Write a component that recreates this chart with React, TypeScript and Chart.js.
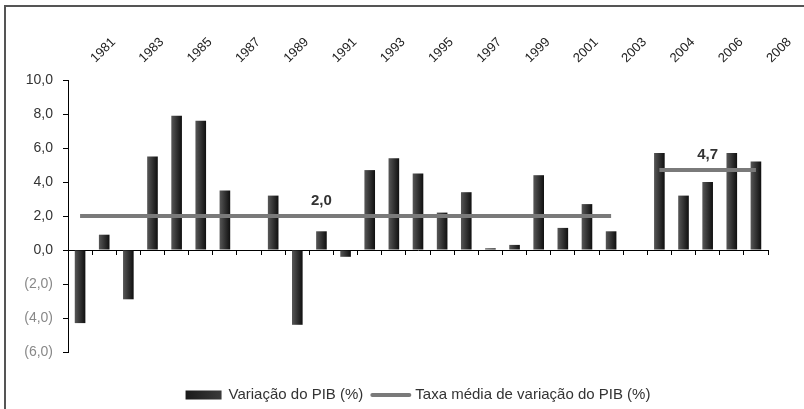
import React, { useEffect, useRef } from "react";
import { Chart, registerables } from "chart.js";

Chart.register(...registerables);

const years = [
  "1981", "1982", "1983", "1984", "1985", "1986", "1987", "1988", "1989", "1990",
  "1991", "1992", "1993", "1994", "1995", "1996", "1997", "1998", "1999", "2000",
  "2001", "2002", "2003", "", "2004", "2005", "2006", "2007", "2008",
];
const topTickLabels = [
  "1981", "", "1983", "", "1985", "", "1987", "", "1989", "",
  "1991", "", "1993", "", "1995", "", "1997", "", "1999", "",
  "2001", "", "2003", "", "2004", "", "2006", "", "2008",
];
const pibVariation = [
  -4.3, 0.9, -2.9, 5.5, 7.9, 7.6, 3.5, 0.0, 3.2, -4.4,
  1.1, -0.4, 4.7, 5.4, 4.5, 2.2, 3.4, 0.1, 0.3, 4.4,
  1.3, 2.7, 1.1, null, 5.7, 3.2, 4.0, 5.7, 5.2,
];
const avgRate = [
  2.0, 2.0, 2.0, 2.0, 2.0, 2.0, 2.0, 2.0, 2.0, 2.0,
  2.0, 2.0, 2.0, 2.0, 2.0, 2.0, 2.0, 2.0, 2.0, 2.0,
  2.0, 2.0, 2.0, null, 4.7, 4.7, 4.7, 4.7, 4.7,
];
const avgLabels = [
  { index: 10, value: 2.0, text: "2,0" },
  { index: 26, value: 4.7, text: "4,7" },
];
const yTickValues = [-6, -4, -2, 0, 2, 4, 6, 8, 10];
const yTickLabels = ["(6,0)", "(4,0)", "(2,0)", "0,0", "2,0", "4,0", "6,0", "8,0", "10,0"];
const seriesNames = ["Variação do PIB (%)", "Taxa média de variação do PIB (%)"];

const FONT = "'Liberation Sans', Arial, sans-serif";

const framePlugin = {
  id: "frame",
  beforeDraw(chart: any) {
    const { ctx, width, height } = chart;
    ctx.save();
    ctx.fillStyle = "#ffffff";
    ctx.fillRect(0, 0, width, height);
    ctx.strokeStyle = "#555555";
    ctx.lineWidth = 2;
    ctx.beginPath();
    ctx.moveTo(5, height);
    ctx.lineTo(5, 6);
    ctx.lineTo(width, 6);
    ctx.stroke();
    ctx.restore();
  },
};

const labelsPlugin = {
  id: "avgLabels",
  afterDatasetsDraw(chart: any) {
    const { ctx } = chart;
    const xs = chart.scales.x;
    const ys = chart.scales.y;
    ctx.save();
    ctx.font = `bold 15px ${FONT}`;
    ctx.fillStyle = "#333333";
    ctx.textAlign = "center";
    ctx.textBaseline = "middle";
    avgLabels.forEach((l) => {
      ctx.fillText(l.text, xs.getPixelForValue(l.index), ys.getPixelForValue(l.value) - 15);
    });
    ctx.restore();
  },
};

const legendPlugin = {
  id: "customLegend",
  afterDraw(chart: any) {
    const { ctx, chartArea } = chart;
    ctx.save();
    ctx.font = `15px ${FONT}`;
    ctx.textBaseline = "middle";
    ctx.textAlign = "left";
    const boxW = 36;
    const lineW = 41;
    const gap = 7;
    const itemGap = 7;
    const w0 = ctx.measureText(seriesNames[0]).width;
    const w1 = ctx.measureText(seriesNames[1]).width;
    const total = boxW + gap + w0 + itemGap + lineW + 4 + w1;
    let x = (chartArea.left + chartArea.right) / 2 - total / 2;
    const y = 395;
    const g = ctx.createLinearGradient(x, 0, x + boxW, 0);
    g.addColorStop(0, "#1a1a1a");
    g.addColorStop(1, "#3a3a3a");
    ctx.fillStyle = g;
    ctx.fillRect(x, y - 4.5, boxW, 9);
    x += boxW + gap;
    ctx.fillStyle = "#333333";
    ctx.fillText(seriesNames[0], x, y);
    x += w0 + itemGap;
    ctx.strokeStyle = "#7a7a7a";
    ctx.lineWidth = 4;
    ctx.lineCap = "round";
    ctx.beginPath();
    ctx.moveTo(x + 2, y);
    ctx.lineTo(x + lineW - 2, y);
    ctx.stroke();
    x += lineW + 4;
    ctx.fillText(seriesNames[1], x, y);
    ctx.restore();
  },
};

export default function App() {
  const canvasRef = useRef<HTMLCanvasElement | null>(null);

  useEffect(() => {
    document.body.style.margin = "0";
    const canvas = canvasRef.current;
    if (!canvas) return;
    const chart = new Chart(canvas, {
      type: "bar",
      data: {
        labels: years,
        datasets: [
          {
            type: "line",
            label: seriesNames[1],
            data: avgRate as any,
            borderColor: "#7a7a7a",
            borderWidth: 4,
            pointRadius: 0,
            spanGaps: false,
            fill: false,
            order: 0,
            xAxisID: "x",
            yAxisID: "y",
          } as any,
          {
            type: "bar",
            label: seriesNames[0],
            data: pibVariation as any,
            backgroundColor: (c: any) => {
              const xs = c.chart.scales && c.chart.scales.x;
              if (c.type !== "data" || !xs) return "#2a2a2a";
              const cx = xs.getPixelForValue(c.dataIndex);
              if (!Number.isFinite(cx)) return "#2a2a2a";
              const g = c.chart.ctx.createLinearGradient(cx - 5, 0, cx + 5, 0);
              g.addColorStop(0, "#555555");
              g.addColorStop(1, "#111111");
              return g;
            },
            borderWidth: 0,
            categoryPercentage: 1,
            barPercentage: 0.44,
            order: 1,
            xAxisID: "x",
            yAxisID: "y",
          } as any,
        ],
      },
      options: {
        responsive: false,
        animation: false,
        devicePixelRatio: 1,
        layout: { padding: { left: 0, right: 36, top: 0, bottom: 57 } },
        plugins: {
          legend: { display: false },
          tooltip: { enabled: false },
        },
        scales: {
          x: {
            type: "category",
            position: { y: 0 } as any,
            offset: true,
            grid: {
              display: true,
              drawOnChartArea: false,
              drawTicks: true,
              tickLength: 4,
              color: "#000000",
              offset: true,
            },
            border: { display: true, color: "#000000", width: 1 },
            ticks: { display: false },
          },
          x2: {
            type: "category",
            position: "top",
            offset: true,
            grid: { display: false, drawTicks: false },
            border: { display: false },
            ticks: {
              autoSkip: false,
              minRotation: 45,
              maxRotation: 45,
              padding: 14,
              labelOffset: 24,
              color: "#222222",
              font: { family: FONT, size: 13 },
              callback: (_v: any, i: number) => topTickLabels[i],
            },
            afterFit: (s: any) => {
              s.height = 80;
            },
          } as any,
          y: {
            type: "linear",
            min: -6,
            max: 10,
            afterBuildTicks: (s: any) => {
              s.ticks = yTickValues.map((v) => ({ value: v }));
            },
            grid: {
              display: true,
              drawOnChartArea: false,
              drawTicks: true,
              tickLength: 5,
              color: "#000000",
            },
            border: { display: true, color: "#000000", width: 1 },
            ticks: {
              padding: 10,
              font: { family: FONT, size: 14 },
              color: (c: any) => (c.tick && c.tick.value < 0 ? "#888888" : "#333333"),
              callback: (v: any) => yTickLabels[yTickValues.indexOf(Number(v))],
            },
            afterFit: (s: any) => {
              s.width = 68;
            },
          } as any,
        },
      },
      plugins: [framePlugin, labelsPlugin, legendPlugin],
    });
    return () => chart.destroy();
  }, []);

  return (
    <div style={{ width: 804, height: 409 }}>
      <canvas ref={canvasRef} width={804} height={409} style={{ display: "block" }} />
    </div>
  );
}
